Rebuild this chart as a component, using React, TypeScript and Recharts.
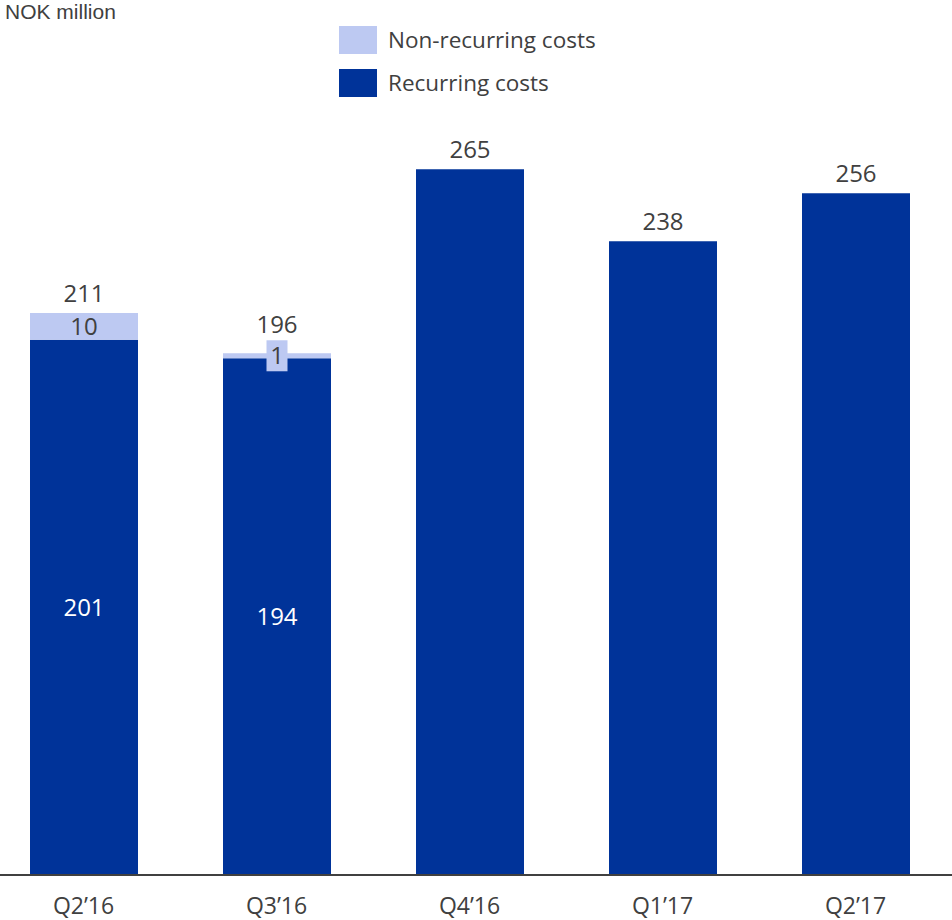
import React from 'react';
import { BarChart, Bar, XAxis, YAxis, LabelList, Legend } from 'recharts';

const categories = ['Q2’16', 'Q3’16', 'Q4’16', 'Q1’17', 'Q2’17'];
const recurring = [201, 194, 265, 238, 256];
const nonRecurring = [10, 1.9, 0, 0, 0];
const recurringLabels = ['201', '194', '', '', ''];
const nonRecurringLabels = ['10', '1', '', '', ''];
const totalLabels = ['211', '196', '265', '238', '256'];
const legendLabels = ['Non-recurring costs', 'Recurring costs'];
const yDomain = [0, 300];

const DARK = '#003399';
const LIGHT = '#BDC9F2';
const TEXT = '#404040';
const FONT = "'Open Sans', sans-serif";

const data = categories.map((c, i) => ({
  name: c,
  recurring: recurring[i],
  nonRecurring: nonRecurring[i],
}));

const getBox = (props: any) => {
  const vb = props.viewBox || {};
  return {
    x: Number(vb.x ?? props.x),
    y: Number(vb.y ?? props.y),
    width: Number(vb.width ?? props.width),
    height: Number(vb.height ?? props.height),
  };
};

const renderInner = (props: any) => {
  const { x, y, width, height } = getBox(props);
  const idx = props.index;
  const h = Math.abs(height);
  const top = height < 0 ? y + height : y;
  const cx = x + width / 2;
  const els: any[] = [];
  const lbl = recurringLabels[idx];
  if (lbl) {
    els.push(
      <text key="in" x={cx} y={top + h / 2 + 8.5} textAnchor="middle" fill="#ffffff" fontSize={24} fontFamily={FONT}>
        {lbl}
      </text>
    );
  }
  if (!nonRecurring[idx]) {
    els.push(
      <text key="tot" x={cx} y={top - 11} textAnchor="middle" fill={TEXT} fontSize={24} fontFamily={FONT}>
        {totalLabels[idx]}
      </text>
    );
  }
  return <g>{els}</g>;
};

const renderTop = (props: any) => {
  const { x, y, width, height } = getBox(props);
  const idx = props.index;
  if (!nonRecurring[idx]) return null;
  const h = Math.abs(height || 0);
  const top = height < 0 ? y + height : y;
  const cx = x + width / 2;
  const els: any[] = [];
  let totalBaseline = top - 11;
  const lbl = nonRecurringLabels[idx];
  if (lbl) {
    const cy = top + h / 2;
    if (h < 24) {
      const boxTop = cy - 15.5;
      els.push(<rect key="box" x={cx - 10.5} y={boxTop} width={21} height={31} fill={LIGHT} />);
      totalBaseline = boxTop - 7;
    }
    els.push(
      <text key="in" x={cx} y={cy + 8.5} textAnchor="middle" fill={TEXT} fontSize={24} fontFamily={FONT}>
        {lbl}
      </text>
    );
  }
  els.push(
    <text key="tot" x={cx} y={totalBaseline} textAnchor="middle" fill={TEXT} fontSize={24} fontFamily={FONT}>
      {totalLabels[idx]}
    </text>
  );
  return <g>{els}</g>;
};

const renderTick = (props: any) => {
  const { x, y, payload } = props;
  return (
    <text x={x} y={y + 38.5} textAnchor="middle" fill={TEXT} fontSize={23} fontFamily={FONT}>
      {payload.value}
    </text>
  );
};

const renderLegend = () => (
  <div style={{ fontFamily: FONT, color: TEXT, fontSize: 22.5 }}>
    {legendLabels.map((l, i) => (
      <div key={l} style={{ display: 'flex', alignItems: 'center', height: 28, marginBottom: 15, whiteSpace: 'nowrap' }}>
        <div style={{ width: 38, height: 28, background: i === 0 ? LIGHT : DARK, marginRight: 11, flexShrink: 0 }} />
        <span style={{ lineHeight: '28px' }}>{l}</span>
      </div>
    ))}
  </div>
);

export default function App() {
  return (
    <div style={{ position: 'absolute', left: 0, top: 0, width: 952, height: 920, overflow: 'hidden', background: '#fff' }}>
      <div
        style={{
          position: 'absolute',
          left: 5,
          top: 1,
          fontFamily: "'Liberation Sans', Arial, sans-serif",
          fontSize: 21,
          lineHeight: '21px',
          color: TEXT,
          whiteSpace: 'nowrap',
        }}
      >
        NOK million
      </div>
      <div style={{ position: 'absolute', left: -13, top: 0 }}>
        <BarChart width={965} height={920} data={data} margin={{ top: 76, right: 0, bottom: 0, left: 0 }}>
          <XAxis
            dataKey="name"
            height={45}
            tickLine={false}
            tickSize={0}
            tickMargin={0}
            axisLine={{ stroke: TEXT, strokeWidth: 2 }}
            tick={renderTick}
            interval={0}
          />
          <YAxis hide domain={yDomain} />
          <Legend
            layout="vertical"
            align="center"
            verticalAlign="middle"
            wrapperStyle={{ position: 'absolute', left: 352, top: 26, width: 320 }}
            content={renderLegend}
          />
          <Bar dataKey="recurring" stackId="a" fill={DARK} barSize={108} isAnimationActive={false}>
            <LabelList dataKey="recurring" content={renderInner} />
          </Bar>
          <Bar dataKey="nonRecurring" stackId="a" fill={LIGHT} barSize={108} isAnimationActive={false}>
            <LabelList dataKey="nonRecurring" content={renderTop} />
          </Bar>
        </BarChart>
      </div>
    </div>
  );
}
